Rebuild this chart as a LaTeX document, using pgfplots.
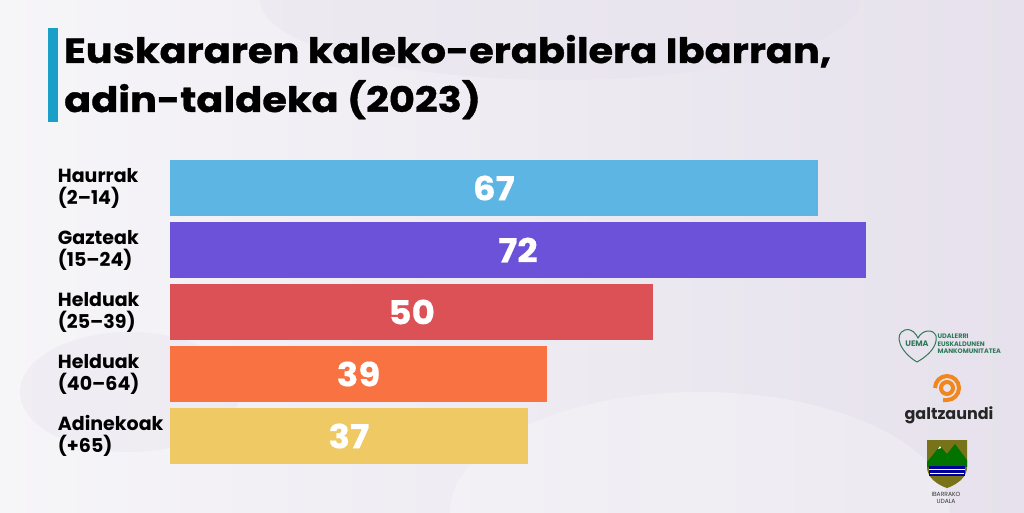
\documentclass[border=0pt]{standalone}
\usepackage{fontspec}
\setmainfont{Poppins}
\newfontfamily\titlefont{Poppins}[BoldFeatures={FakeStretch=1.14,FakeBold=1}]
\newfontfamily\numfont{Poppins}[BoldFeatures={FakeStretch=1.08,FakeBold=0.5}]
\usepackage{pgfplots}
\pgfplotsset{compat=1.18}
\usepackage{pgfplotstable}
\definecolor{bg}{HTML}{E6E1EC}
\definecolor{bglight}{HTML}{F6F5F8}
\definecolor{titlebar}{HTML}{1AA0C8}
\definecolor{cA}{HTML}{5DB5E3}
\definecolor{cB}{HTML}{6C52D9}
\definecolor{cC}{HTML}{DB5155}
\definecolor{cD}{HTML}{F97342}
\definecolor{cE}{HTML}{EEC964}
\definecolor{uema}{HTML}{2F7A5A}
\definecolor{galorange}{HTML}{F0861E}
\pgfplotstableread{
y v
4 67
3 72
2 50
1 39
0 37
}\datatable
\begin{document}
\begin{tikzpicture}[x=1pt,y=1pt]
\shade[left color=bglight, right color=bg] (0,0) rectangle (1024,512);
\begin{scope}
\clip (0,0) rectangle (1024,512);
\fill[bg,opacity=0.4] (560,512) ellipse (300 and 80);
\fill[white,opacity=0.25] (700,0) ellipse (250 and 120);
\fill[bg,opacity=0.35] (130,120) ellipse (110 and 60);
\end{scope}
\fill[titlebar] (48,390) rectangle (58,484);
\node[anchor=base west,inner sep=0pt,font=\fontsize{35}{35}\titlefont\bfseries] at (64,449) {Euskararen kaleko-erabilera Ibarran,};
\node[anchor=base west,inner sep=0pt,font=\fontsize{35}{35}\titlefont\bfseries] at (64,400) {adin-taldeka (2023)};
\begin{axis}[at={(170pt,45pt)}, anchor=south west, scale only axis,
  width=696pt, height=310pt, xmin=0, xmax=72, ymin=-0.5, ymax=4.5,
  xbar, bar width=56pt, bar shift=0pt, clip=false,
  axis line style={draw=none}, tick style={draw=none}, xtick=\empty,
  ytick={0,1,2,3,4},
  yticklabels={{Adinekoak\\(+65)},{Helduak\\(40–64)},{Helduak\\(25–39)},{Gazteak\\(15–24)},{Haurrak\\(2–14)}},
  yticklabel style={anchor=west, align=left, xshift=-108pt, font=\fontsize{19}{22}\selectfont\bfseries, inner sep=0pt},
]
\addplot[fill=cA, draw=none] coordinates {(67,4)};
\addplot[fill=cB, draw=none] coordinates {(72,3)};
\addplot[fill=cC, draw=none] coordinates {(50,2)};
\addplot[fill=cD, draw=none] coordinates {(39,1)};
\addplot[fill=cE, draw=none] coordinates {(37,0)};
\addplot[draw=none, fill=none, nodes near coords, point meta=explicit symbolic,
  every node near coord/.append style={anchor=center, text=white, font=\fontsize{33}{33}\numfont\bfseries}]
  table[x expr=\thisrow{v}/2, y=y, meta=v] {\datatable};
\end{axis}
% logos (approximate)
\draw[uema,line width=1pt] (917,150) .. controls (900,160) and (893,178) .. (905,182) .. controls (912,184) and (916,178) .. (918,174) .. controls (922,182) and (933,184) .. (936,176) .. controls (938,166) and (928,156) .. (917,150);
\node[uema,font=\fontsize{8}{8}\selectfont\bfseries] at (917,168) {UEMA};
\node[uema,anchor=west,align=left,font=\fontsize{6.5}{7.5}\selectfont\bfseries] at (934,168) {UDALERRI\\EUSKALDUNEN\\MANKOMUNITATEA};
\draw[galorange,line width=4pt] (947,124) circle (6);
\draw[galorange,line width=4pt] (935,124) arc (180:-90:12) -- ++(-4,0);
\node[font=\fontsize{16}{16}\selectfont\bfseries,text=black!85] at (949,97) {galtzaundi};
\fill[olive!80!black] (927,72) -- (967,72) -- (967,45) .. controls (967,30) and (947,24) .. (947,24) .. controls (947,24) and (927,30) .. (927,45) -- cycle;
\fill[green!45!black] (927,50) -- (940,66) -- (947,58) -- (955,68) -- (967,52) -- (967,45) -- (927,45) -- cycle;
\fill[white] (941,64) -- (940,66) -- (938,63) -- cycle;
\fill[blue!60!black] (929,46) rectangle (965,36);
\draw[white,line width=1pt] (929,43) -- (965,43) (930,39) -- (964,39);
\node[font=\fontsize{6}{7}\selectfont,align=center,text=black!80] at (946,14) {IBARRAKO\\UDALA};
\end{tikzpicture}
\end{document}
